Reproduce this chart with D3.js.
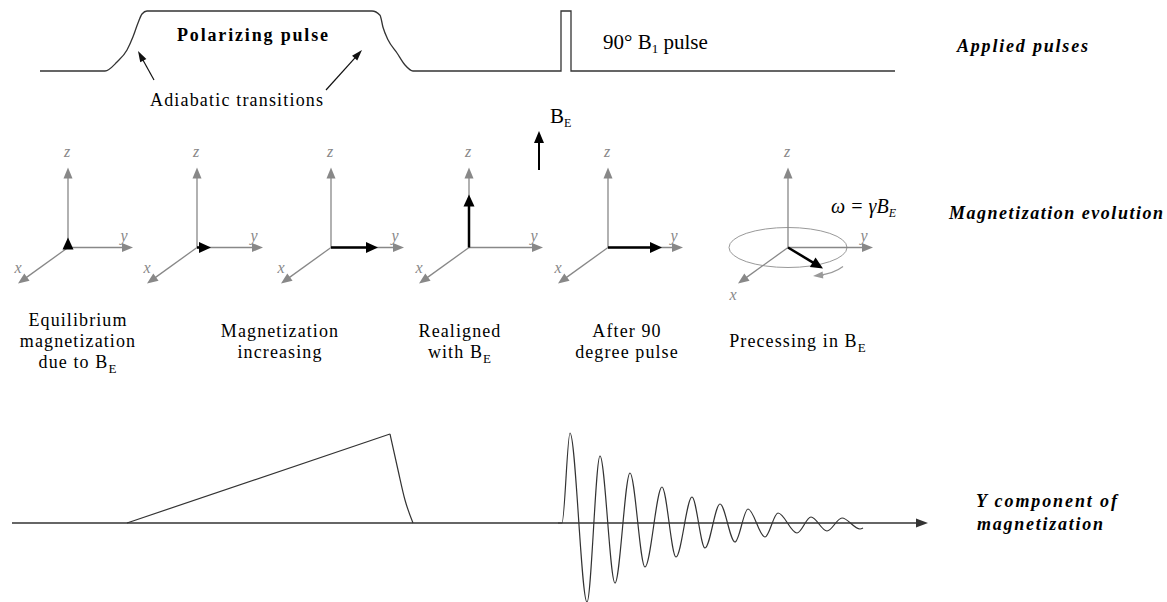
<!DOCTYPE html>
<html>
<head>
<meta charset="utf-8">
<script src="https://cdn.jsdelivr.net/npm/d3@7"></script>
<style>
  body { margin: 0; background: #fff; }
</style>
</head>
<body>
<script>
// applied pulses (time in px units, level 0 = off, 1 = on)
const pulseT     = [40, 105, 117, 127, 133, 138, 142, 147, 372, 380, 383, 388, 397, 405, 413, 557];
const pulseLevel = [0, 0, 0.15, 0.35, 0.57, 0.8, 0.95, 1, 1, 0.93, 0.73, 0.52, 0.3, 0.1, 0, 0];
const rfT        = [557, 561, 561, 571, 571, 895];
const rfLevel    = [0, 0, 1, 1, 0, 0];

// y component of magnetization
const rampT = [127, 390, 398, 405, 413];
const rampA = [0, 89, 53, 23, 0];
const fidT  = [558, 562, 570, 587, 600, 615, 630, 645, 662, 676, 692, 705, 720, 735, 748, 765, 778, 797, 811, 827, 842, 860, 863];
const fidA  = [0, 0, 90, -79, 67, -60, 50, -44, 36, -34, 26, -25, 19, -19, 14, -14, 10, -10, 6, -8, 5, -6, -5];

// magnetization frames
const frameX   = [68, 197, 331, 469, 608, 788];
const yAxisLen = [65, 66, 73, 74, 75, 85];
const magDx    = [0, 14, 47, 0, 54, 35];
const magDy    = [-10, 0, 0, -53, 0, 21];
const captions = [
  [["Equilibrium"], ["magnetization"], ["due to B", "E"]],
  [["Magnetization"], ["increasing"]],
  [["Realigned"], ["with B", "E"]],
  [["After 90"], ["degree pulse"]],
  [["Precessing in B", "E"]]
];
const captionX = [78, 280, 460, 627, 798];

const W = 1167, H = 602;
const serif = "'Liberation Serif', 'Times New Roman', serif";
const svg = d3.select('body').append('svg')
  .attr('width', W).attr('height', H)
  .style('display', 'block')
  .attr('font-family', serif);

const t = d3.scaleLinear().domain([0, W]).range([0, W]);
const level = d3.scaleLinear().domain([0, 1]).range([71, 11]);
const amp = d3.scaleLinear().domain([-100, 100]).range([623, 423]);

function arrow(g, x1, y1, x2, y2, color, width, hl, hw) {
  const a = Math.atan2(y2 - y1, x2 - x1);
  const c = Math.cos(a), s = Math.sin(a);
  const len = Math.hypot(x2 - x1, y2 - y1);
  if (len > hl) {
    g.append('line')
      .attr('x1', x1).attr('y1', y1)
      .attr('x2', x2 - c * hl * 0.8).attr('y2', y2 - s * hl * 0.8)
      .attr('stroke', color).attr('stroke-width', width);
  }
  const bx = x2 - c * hl, by = y2 - s * hl;
  g.append('polygon')
    .attr('points', [[x2, y2], [bx - s * hw / 2, by + c * hw / 2], [bx + s * hw / 2, by - c * hw / 2]].join(' '))
    .attr('fill', color);
}

// ---- applied pulses
const pulseLine = d3.line().x(d => t(d[0])).y(d => level(d[1]));
svg.append('path')
  .attr('d', pulseLine.curve(d3.curveMonotoneX)(d3.zip(pulseT, pulseLevel)))
  .attr('fill', 'none').attr('stroke', '#333').attr('stroke-width', 1.3);
svg.append('path')
  .attr('d', d3.line().x(d => t(d[0])).y(d => level(d[1]))(d3.zip(rfT, rfLevel)))
  .attr('fill', 'none').attr('stroke', '#333').attr('stroke-width', 1.3);

svg.append('text').attr('x', 177).attr('y', 41)
  .attr('font-size', 18).attr('font-weight', 'bold')
  .attr('textLength', 151).attr('lengthAdjust', 'spacing')
  .text('Polarizing pulse');

svg.append('text').attr('x', 150).attr('y', 106)
  .attr('font-size', 18).attr('textLength', 173).attr('lengthAdjust', 'spacing')
  .text('Adiabatic transitions');

const ga = svg.append('g');
arrow(ga, 154, 80, 138, 51, '#111', 1.2, 11, 7);
arrow(ga, 326, 90, 362, 50, '#111', 1.2, 11, 7);

const rf = svg.append('text').attr('x', 603).attr('y', 49).attr('font-size', 21);
rf.append('tspan').text('90° B');
rf.append('tspan').attr('font-size', 13).attr('dy', 4).text('1');
rf.append('tspan').attr('dy', -4).text(' pulse');

svg.append('text').attr('x', 957).attr('y', 52)
  .attr('font-size', 18).attr('font-weight', 'bold').attr('font-style', 'italic')
  .attr('textLength', 131).attr('lengthAdjust', 'spacing')
  .text('Applied pulses');

svg.append('text').attr('x', 949).attr('y', 219)
  .attr('font-size', 18).attr('font-weight', 'bold').attr('font-style', 'italic')
  .attr('textLength', 214).attr('lengthAdjust', 'spacing')
  .text('Magnetization evolution');

// ---- frames
const oy = 247.5;
frameX.forEach((ox, i) => {
  const g = svg.append('g');
  if (i === 5) {
    g.append('ellipse').attr('cx', ox).attr('cy', oy).attr('rx', 59).attr('ry', 20)
      .attr('fill', 'none').attr('stroke', '#999').attr('stroke-width', 1);
  }
  arrow(g, ox, oy, ox, oy - 80, '#888', 1.3, 11, 9);
  arrow(g, ox, oy, ox + yAxisLen[i], oy, '#888', 1.3, 11, 9);
  arrow(g, ox, oy, ox - 50, oy + 36, '#888', 1.3, 11, 9);
  const lab = (x, y, s) => g.append('text').attr('x', x).attr('y', y)
    .attr('font-size', 16).attr('font-style', 'italic').attr('fill', '#888')
    .attr('text-anchor', 'middle').text(s);
  lab(ox - 1, oy - 91, 'z');
  lab(ox + yAxisLen[i] - 9, oy - 7, 'y');
  if (i === 5) lab(ox - 55, oy + 52, 'x');
  else lab(ox - 50, oy + 25, 'x');
  arrow(g, ox, oy, ox + magDx[i], oy + magDy[i], '#000', 2.5, 12, 11);
  if (i === 5) {
    const p = d3.path();
    p.moveTo(ox + 55, oy + 19);
    p.quadraticCurveTo(ox + 46, oy + 26, ox + 30, oy + 28);
    g.append('path').attr('d', p.toString()).attr('fill', 'none')
      .attr('stroke', '#999').attr('stroke-width', 1.2);
    arrow(g, ox + 36, oy + 27.5, ox + 25, oy + 28.5, '#999', 1.2, 10, 7);
  }
});

// B_E arrow
const gb = svg.append('g');
arrow(gb, 539, 170, 539, 131, '#000', 2, 12, 10);
const be = svg.append('text').attr('x', 550).attr('y', 123).attr('font-size', 21);
be.append('tspan').text('B');
be.append('tspan').attr('font-size', 12).attr('dy', 4).text('E');

const om = svg.append('text').attr('x', 831).attr('y', 213).attr('font-size', 20).attr('font-style', 'italic');
om.append('tspan').text('ω = γB');
om.append('tspan').attr('font-size', 12).attr('dy', 4).text('E');

// captions
captions.forEach((lines, i) => {
  const n = lines.length;
  const start = n === 3 ? 326 : n === 2 ? 337 : 347;
  lines.forEach((seg, j) => {
    const tx = svg.append('text').attr('x', captionX[i]).attr('y', start + j * 21)
      .attr('font-size', 18).attr('letter-spacing', 1.1).attr('text-anchor', 'middle');
    tx.append('tspan').text(seg[0]);
    if (seg[1]) tx.append('tspan').attr('font-size', 13).attr('dy', 5).text(seg[1]);
  });
});

// ---- y component
const gy = svg.append('g');
arrow(gy, 12, amp(0), 928, amp(0), '#333', 1.3, 12, 9);
const sigLine = d3.line().x(d => t(d[0])).y(d => amp(d[1]));
svg.append('path').attr('d', sigLine.curve(d3.curveLinear)(d3.zip(rampT.slice(0, 2), rampA.slice(0, 2))))
  .attr('fill', 'none').attr('stroke', '#333').attr('stroke-width', 1.2);
svg.append('path').attr('d', sigLine.curve(d3.curveMonotoneX)(d3.zip(rampT.slice(1), rampA.slice(1))))
  .attr('fill', 'none').attr('stroke', '#333').attr('stroke-width', 1.2);
svg.append('path').attr('d', sigLine.curve(d3.curveMonotoneX)(d3.zip(fidT, fidA)))
  .attr('fill', 'none').attr('stroke', '#333').attr('stroke-width', 1.2);

svg.append('text').attr('x', 976).attr('y', 507)
  .attr('font-size', 18).attr('font-weight', 'bold').attr('font-style', 'italic')
  .attr('textLength', 141).attr('lengthAdjust', 'spacing')
  .text('Y component of');
svg.append('text').attr('x', 977).attr('y', 530)
  .attr('font-size', 18).attr('font-weight', 'bold').attr('font-style', 'italic')
  .attr('textLength', 126).attr('lengthAdjust', 'spacing')
  .text('magnetization');

svg.selectAll('text').attr('font-family', serif);
</script>
</body>
</html>
